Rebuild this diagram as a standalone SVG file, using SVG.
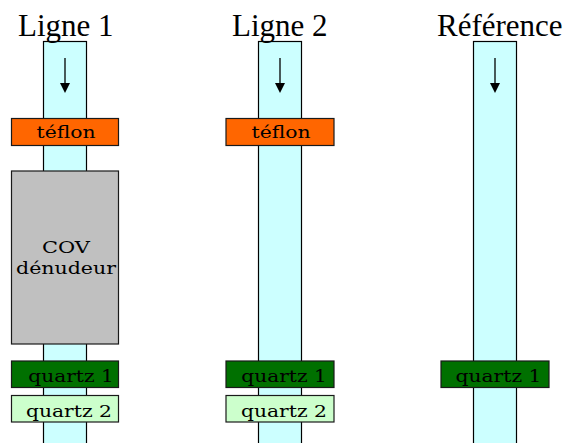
<svg xmlns="http://www.w3.org/2000/svg" width="569" height="443" viewBox="0 0 569 443">
<style>
.tube{fill:#ccffff;stroke:#000;stroke-width:1.2}
.box{stroke:#1a1a1a;stroke-width:1.2}
.teflon{fill:#ff6600}
.cov{fill:#c0c0c0}
.q1{fill:#007000}
.q2{fill:#ccffcc}
.title{font-family:"Liberation Serif","Times New Roman",serif;font-size:31px;fill:#000}
.lbl{font-family:"DejaVu Serif","Liberation Serif",serif;font-size:17.5px;fill:#000;text-anchor:middle}
.arr{stroke:#000;stroke-width:1.3;fill:none}
</style>
<defs>
<marker id="ah" viewBox="0 0 10 10" refX="0" refY="5" markerWidth="10" markerHeight="10" markerUnits="userSpaceOnUse" orient="auto">
<path d="M0,0 L10,5 L0,10 z" fill="#000"/>
</marker>
</defs>
<rect width="569" height="443" fill="#fff"/>
<g id="tubes">
<rect class="tube" x="43.5" y="41.5" width="43" height="410"/>
<rect class="tube" x="258.5" y="41.5" width="43" height="410"/>
<rect class="tube" x="473.5" y="41.5" width="43" height="410"/>
</g>
<g id="connectors">
<line class="arr" x1="65" y1="58" x2="65" y2="83" marker-end="url(#ah)"/>
<line class="arr" x1="280" y1="58" x2="280" y2="83" marker-end="url(#ah)"/>
<line class="arr" x1="495" y1="58" x2="495" y2="83" marker-end="url(#ah)"/>
</g>
<g id="titles">
<text class="title" x="18" y="35.5">Ligne 1</text>
<text class="title" x="232" y="35.5">Ligne 2</text>
<text class="title" x="437" y="35.5">Référence</text>
</g>
<g id="teflon1">
<rect class="box teflon" x="11.5" y="118.5" width="107" height="27"/>
<text class="lbl" x="66" y="138" textLength="59" lengthAdjust="spacingAndGlyphs">téflon</text>
</g>
<g id="cov1">
<rect class="box cov" x="11.5" y="171" width="107" height="173"/>
<text class="lbl" x="66" y="252.5" textLength="48" lengthAdjust="spacingAndGlyphs">COV</text>
<text class="lbl" x="66" y="274" textLength="100" lengthAdjust="spacingAndGlyphs">dénudeur</text>
</g>
<g id="quartz1a">
<rect class="box q1" x="11.5" y="361" width="107" height="26.5"/>
<text class="lbl" x="71" y="381.5" textLength="85.5" lengthAdjust="spacingAndGlyphs">quartz 1</text>
</g>
<g id="quartz2a">
<rect class="box q2" x="11.5" y="395.5" width="107" height="26.5"/>
<text class="lbl" x="69" y="416.5" textLength="86" lengthAdjust="spacingAndGlyphs">quartz 2</text>
</g>
<g id="teflon2">
<rect class="box teflon" x="226" y="118.5" width="108" height="27"/>
<text class="lbl" x="281" y="138" textLength="59" lengthAdjust="spacingAndGlyphs">téflon</text>
</g>
<g id="quartz1b">
<rect class="box q1" x="226" y="361" width="108" height="26.5"/>
<text class="lbl" x="284" y="381.5" textLength="85.5" lengthAdjust="spacingAndGlyphs">quartz 1</text>
</g>
<g id="quartz2b">
<rect class="box q2" x="226" y="395.5" width="108" height="26.5"/>
<text class="lbl" x="284" y="416.5" textLength="86" lengthAdjust="spacingAndGlyphs">quartz 2</text>
</g>
<g id="quartz1c">
<rect class="box q1" x="441" y="361" width="108" height="26.5"/>
<text class="lbl" x="498.5" y="381.5" textLength="86" lengthAdjust="spacingAndGlyphs">quartz 1</text>
</g>
</svg>
